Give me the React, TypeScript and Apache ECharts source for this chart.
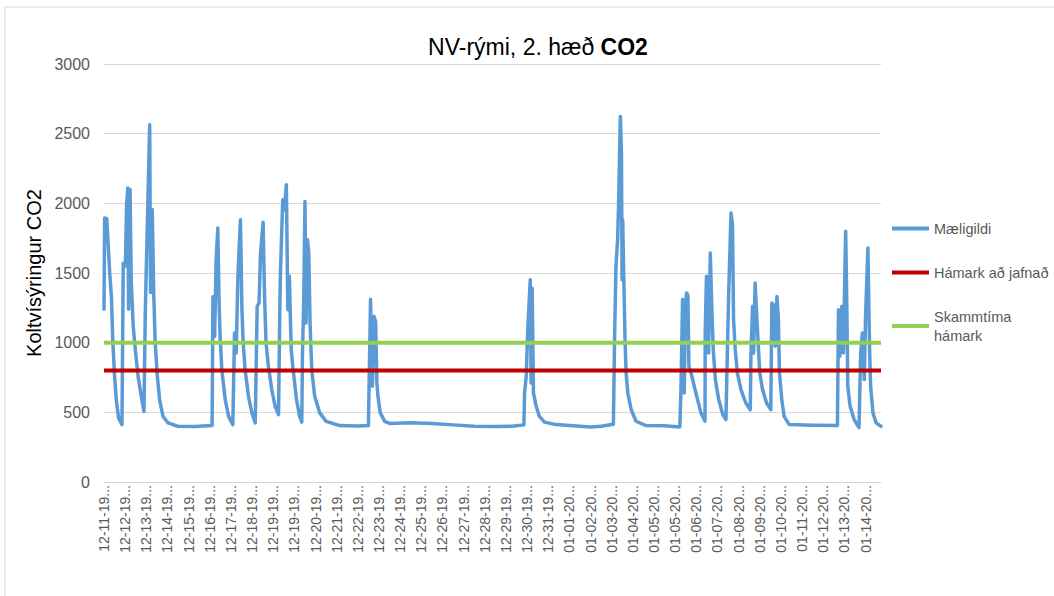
import React, { useEffect, useRef } from "react";
import * as echarts from "echarts";

// Tick labels of the category-like time axis (as printed, truncated)
const xTickLabels = [
  "12-11-19...", "12-12-19...", "12-13-19...", "12-14-19...", "12-15-19...", "12-16-19...",
  "12-17-19...", "12-18-19...", "12-19-19...", "12-19-19...", "12-20-19...", "12-21-19...",
  "12-22-19...", "12-23-19...", "12-24-19...", "12-25-19...", "12-26-19...", "12-27-19...",
  "12-28-19...", "12-29-19...", "12-30-19...", "12-31-19...", "01-01-20...", "01-02-20...",
  "01-03-20...", "01-04-20...", "01-05-20...", "01-05-20...", "01-06-20...", "01-07-20...",
  "01-08-20...", "01-09-20...", "01-10-20...", "01-11-20...", "01-12-20...", "01-13-20...",
  "01-14-20...",
];

// Position of each reading, in tick-label units along the x axis
const measPos = [
  0, 0.03, 0.13, 0.27, 0.35, 0.42, 0.5, 0.58, 0.69, 0.85,
  0.91, 1.01, 1.07, 1.13, 1.16, 1.23, 1.29, 1.38, 1.48, 1.61, 1.76, 1.89,
  1.95, 2.04, 2.16, 2.2, 2.28, 2.35, 2.42, 2.52, 2.63, 2.79, 3.02, 3.49, 4.3, 5.11,
  5.15, 5.23, 5.3, 5.38, 5.44, 5.49, 5.57, 5.73, 5.89, 6.09,
  6.17, 6.25, 6.33, 6.45, 6.52, 6.58, 6.67, 6.83, 6.99, 7.15,
  7.24, 7.33, 7.4, 7.52, 7.59, 7.66, 7.77, 7.93, 8.09, 8.25,
  8.31, 8.34, 8.45, 8.53, 8.62, 8.69, 8.76, 8.85, 8.94, 9.1, 9.25, 9.35,
  9.38, 9.44, 9.5, 9.55, 9.62, 9.68, 9.74, 9.82, 9.96, 10.2, 10.5, 11.14, 12.0, 12.5,
  12.53, 12.6, 12.69, 12.76, 12.84, 12.9, 12.95, 13.06, 13.27, 13.5, 14.5, 15.5, 16.5, 17.5, 18.5, 19.3, 19.85,
  19.88, 19.96, 20.03, 20.15, 20.19, 20.24, 20.3, 20.43, 20.58, 20.82, 21.37, 22.5, 23.0, 23.5, 24.08,
  24.13, 24.2, 24.28, 24.33, 24.41, 24.46, 24.49, 24.52, 24.56, 24.63, 24.68, 24.76, 24.92, 25.15, 25.62, 26.5, 27.22,
  27.27, 27.35, 27.43, 27.48, 27.54, 27.6, 27.65, 27.75, 27.9, 28.06, 28.22, 28.41,
  28.42, 28.48, 28.58, 28.66, 28.74, 28.8, 28.9, 29.06, 29.25, 29.4,
  29.47, 29.53, 29.64, 29.71, 29.76, 29.84, 29.94, 30.11, 30.34, 30.55,
  30.58, 30.66, 30.71, 30.78, 30.85, 30.94, 31.0, 31.13, 31.32, 31.52,
  31.57, 31.65, 31.73, 31.81, 31.88, 31.93, 32.04, 32.15, 32.39, 33.5, 34.67,
  34.72, 34.78, 34.88, 34.95, 35.06, 35.11, 35.16, 35.27, 35.46, 35.69,
  35.77, 35.85, 35.94, 36.0, 36.11, 36.19, 36.24, 36.35, 36.5, 36.73,
];

// CO2 readings (ppm)
const measCO2 = [
  1240, 1895, 1890, 1500, 1330, 1000, 760, 590, 460, 412,
  1570, 1550, 2000, 2110, 1240, 2100, 1430, 1120, 950, 760, 615, 507,
  1210, 1790, 2564, 1360, 1955, 1360, 1000, 760, 590, 470, 425, 400, 398, 405,
  1330, 1045, 1595, 1823, 1285, 1045, 806, 591, 471, 412,
  1070, 926, 1476, 1882, 1237, 998, 806, 615, 496, 424,
  1261, 1285, 1643, 1865, 1332, 998, 830, 663, 543, 484,
  1237, 1500, 2026, 1954, 2134, 1237, 1476, 950, 806, 591, 471, 430,
  902, 1285, 2014, 1141, 1739, 1643, 1141, 806, 615, 496, 435, 405, 402, 405,
  687, 1309, 687, 1189, 1150, 713, 615, 496, 435, 420, 425, 420, 410, 400, 398, 400, 410,
  639, 758, 1093, 1452, 711, 1390, 639, 543, 471, 430, 412, 400, 395, 400, 415,
  974, 1548, 1739, 2026, 2624, 2363, 1452, 1882, 1548, 1022, 783, 639, 519, 436, 405, 403, 395,
  639, 1309, 639, 1261, 1357, 1340, 830, 783, 687, 591, 496, 436,
  1070, 1476, 926, 1643, 1213, 950, 735, 591, 484, 448,
  950, 1357, 1931, 1850, 1165, 950, 783, 663, 567, 519,
  902, 1261, 926, 1428, 1213, 950, 783, 663, 567, 519,
  1285, 1270, 974, 1332, 1165, 783, 591, 471, 412, 408, 405,
  1237, 902, 1261, 926, 1799, 1309, 687, 543, 448, 390,
  926, 1070, 735, 1189, 1679, 950, 687, 496, 424, 400,
];

const limitAverage = 800; // Hámark að jafnað
const limitShortTerm = 1000; // Skammtíma hámark
const xEnd = 36.73;

const seriesNames = ["Mæligildi", "Hámark að jafnað", "Skammtíma hámark"];

export default function App() {
  const ref = useRef<HTMLDivElement>(null);

  useEffect(() => {
    if (!ref.current) return;
    const chart = echarts.init(ref.current, undefined, { renderer: "svg" });
    const measured = measPos.map((p, i) => [p, measCO2[i]]);
    const font = "'Liberation Sans', Arial, sans-serif";

    chart.setOption({
      animation: false,
      backgroundColor: "#ffffff",
      textStyle: { fontFamily: font },
      title: {
        text: "{a|NV-rými, 2. hæð }{b|CO2}",
        left: 533,
        top: 30,
        textAlign: "center",
        textStyle: {
          fontWeight: "normal",
          rich: {
            a: { fontSize: 23, color: "#000000", fontWeight: "normal", fontFamily: font },
            b: { fontSize: 23, color: "#000000", fontWeight: "bold", fontFamily: font },
          },
        },
      },
      graphic: [
        {
          type: "rect",
          shape: { x: 5, y: 7, width: 1200, height: 800 },
          style: { fill: "none", stroke: "#d9d9d9", lineWidth: 1 },
          silent: true,
        },
      ],
      legend: {
        orient: "vertical",
        left: 892,
        top: 219,
        padding: 0,
        itemWidth: 37,
        itemHeight: 4,
        itemGap: 25,
        icon: "rect",
        data: seriesNames,
        formatter: (name: string) =>
          name === "Skammtíma hámark" ? "Skammtíma\nhámark" : name,
        textStyle: { fontSize: 14.5, color: "#595959", fontFamily: font, lineHeight: 19 },
      },
      grid: { left: 104, right: 173, top: 64, bottom: 114, containLabel: false },
      xAxis: {
        type: "value",
        min: 0,
        max: xEnd,
        interval: 1,
        axisLine: { show: true, lineStyle: { color: "#d9d9d9", width: 1 } },
        axisTick: { show: false },
        splitLine: { show: false },
        axisLabel: {
          rotate: 90,
          margin: 3,
          fontSize: 14,
          color: "#595959",
          fontFamily: font,
          showMaxLabel: false,
          formatter: (v: number) =>
            Number.isInteger(v) && v < xTickLabels.length ? xTickLabels[v] : "",
        },
      },
      yAxis: {
        type: "value",
        min: 0,
        max: 3000,
        interval: 500,
        name: "Koltvísýringur CO2",
        nameLocation: "middle",
        nameGap: 56,
        nameTextStyle: { fontSize: 20, color: "#000000", fontFamily: font },
        axisLine: { show: false },
        axisTick: { show: false },
        splitLine: { lineStyle: { color: "#d9d9d9", width: 1 } },
        axisLabel: {
          fontSize: 16,
          color: "#595959",
          margin: 14,
          fontFamily: font,
          formatter: (v: number) => String(v),
        },
      },
      series: [
        {
          name: seriesNames[0],
          type: "line",
          data: measured,
          showSymbol: false,
          symbol: "none",
          lineStyle: { color: "#5b9bd5", width: 3.5, join: "round", cap: "round" },
          itemStyle: { color: "#5b9bd5" },
          z: 2,
        },
        {
          name: seriesNames[1],
          type: "line",
          data: [
            [0, limitAverage],
            [xEnd, limitAverage],
          ],
          showSymbol: false,
          symbol: "none",
          lineStyle: { color: "#c00000", width: 4 },
          itemStyle: { color: "#c00000" },
          z: 3,
        },
        {
          name: seriesNames[2],
          type: "line",
          data: [
            [0, limitShortTerm],
            [xEnd, limitShortTerm],
          ],
          showSymbol: false,
          symbol: "none",
          lineStyle: { color: "#92d050", width: 4 },
          itemStyle: { color: "#92d050" },
          z: 3,
        },
      ],
    });

    return () => chart.dispose();
  }, []);

  return (
    <div
      ref={ref}
      style={{ position: "absolute", left: 0, top: 0, width: 1054, height: 596 }}
    />
  );
}
